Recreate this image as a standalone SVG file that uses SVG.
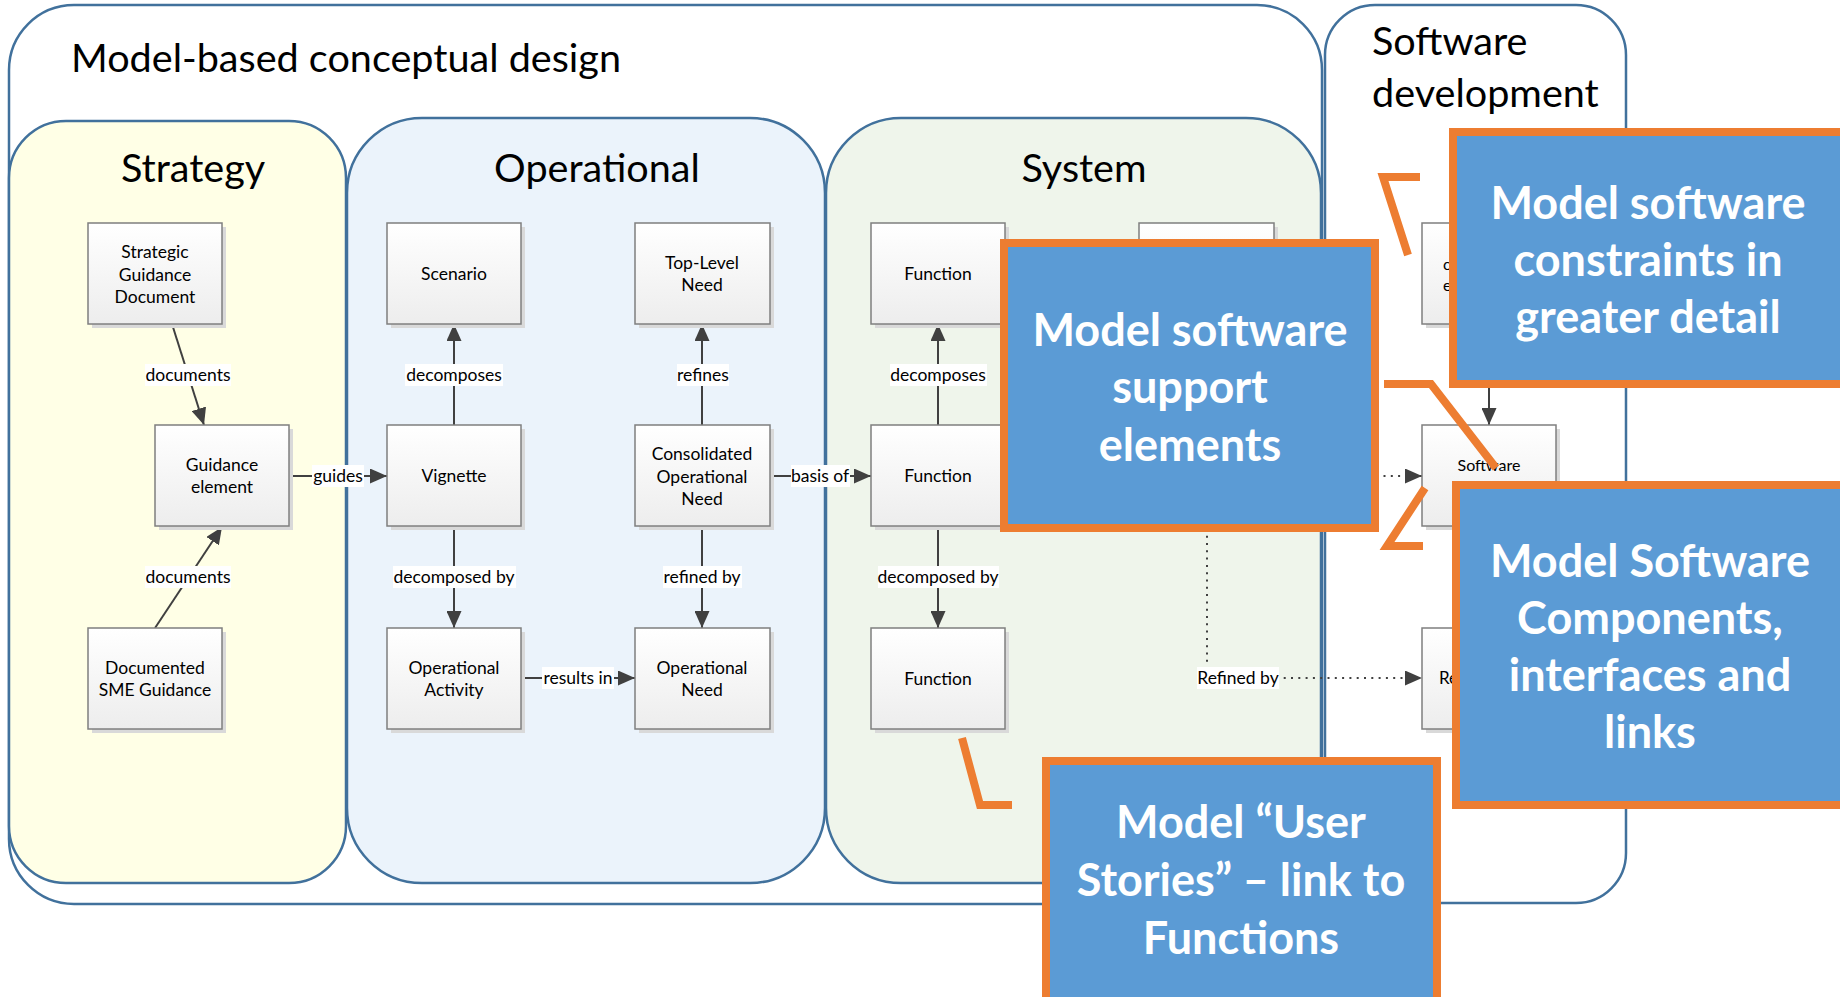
<svg xmlns="http://www.w3.org/2000/svg" width="1840" height="997" viewBox="0 0 1840 997">
<defs>
<linearGradient id="ng" x1="0" y1="0" x2="0" y2="1">
<stop offset="0" stop-color="#FFFFFF"/>
<stop offset="1" stop-color="#EDEDED"/>
</linearGradient>
<marker id="ah" markerWidth="17" markerHeight="15" refX="17" refY="7.5" orient="auto" markerUnits="userSpaceOnUse">
<path d="M0,0 L17,7.5 L0,15 z" fill="#404040"/>
</marker>
<style>
.lane{stroke:#41719C;stroke-width:2.5}
.node{fill:url(#ng);stroke:#7F7F7F;stroke-width:1.5}
.shadow{fill:#D9D9D9}
.nt{font-family:Lato,"Liberation Sans",sans-serif;font-size:17.5px;fill:#000;text-anchor:middle}
.title{font-family:Lato,"Liberation Sans",sans-serif;font-size:39.6px;fill:#000}
.conn{stroke:#404040;stroke-width:2;fill:none}
.dot{stroke:#404040;stroke-width:2;fill:none;stroke-dasharray:2 5.3}
.lblbg{fill:#FFFFFF}
.lbl{font-family:Lato,"Liberation Sans",sans-serif;font-size:17.5px;fill:#000;text-anchor:middle}
.call{fill:#5B9BD5;stroke:#ED7D31;stroke-width:8}
.ct{font-family:Lato,"Liberation Sans",sans-serif;font-weight:bold;font-size:45px;fill:#FFFFFF;text-anchor:middle}
.ptr{stroke:#ED7D31;stroke-width:8;fill:none;stroke-linejoin:miter}
</style>
</defs>
<rect width="1840" height="997" fill="#FFFFFF"/>

<g id="containers">
<rect id="mbcd" class="lane" x="9" y="5" width="1313" height="899" rx="65" ry="65" fill="#FFFFFF"/>
<rect id="swdev" class="lane" x="1325" y="5" width="301" height="898" rx="50" ry="50" fill="#FFFFFF"/>
<rect id="lane-strategy" class="lane" x="9" y="121" width="337" height="762" rx="57" ry="57" fill="#FFFFE6"/>
<rect id="lane-operational" class="lane" x="347" y="118" width="478" height="765" rx="75" ry="75" fill="#EBF3FB"/>
<rect id="lane-system" class="lane" x="826" y="118" width="495" height="765" rx="75" ry="75" fill="#EFF5EB"/>
<text class="title" x="71" y="72">Model-based conceptual design</text>
<text class="title" x="193" y="182" text-anchor="middle">Strategy</text>
<text class="title" x="597" y="182" text-anchor="middle">Operational</text>
<text class="title" x="1084" y="182" text-anchor="middle">System</text>
<text class="title" x="1372" y="55">Software</text>
<text class="title" x="1372" y="107">development</text>
</g>

<g id="connectors">
<line class="conn" x1="172" y1="324" x2="204" y2="425" marker-end="url(#ah)"/>
<line class="conn" x1="155" y1="628" x2="222" y2="527" marker-end="url(#ah)"/>
<line class="conn" x1="290" y1="476" x2="387" y2="476" marker-end="url(#ah)"/>
<line class="conn" x1="454" y1="425" x2="454" y2="324" marker-end="url(#ah)"/>
<line class="conn" x1="454" y1="526" x2="454" y2="628" marker-end="url(#ah)"/>
<line class="conn" x1="521" y1="678" x2="635" y2="678" marker-end="url(#ah)"/>
<line class="conn" x1="702" y1="425" x2="702" y2="324" marker-end="url(#ah)"/>
<line class="conn" x1="702" y1="526" x2="702" y2="628" marker-end="url(#ah)"/>
<line class="conn" x1="770" y1="476" x2="871" y2="476" marker-end="url(#ah)"/>
<line class="conn" x1="938" y1="425" x2="938" y2="324" marker-end="url(#ah)"/>
<line class="conn" x1="938" y1="526" x2="938" y2="628" marker-end="url(#ah)"/>
<line class="conn" x1="1489" y1="324" x2="1489" y2="425" marker-end="url(#ah)"/>
<path class="dot" d="M1207,324 L1207,678 L1422,678" marker-end="url(#ah)"/>
<line class="dot" x1="1274" y1="476" x2="1422" y2="476" marker-end="url(#ah)"/>

<rect class="lblbg" x="145" y="364" width="86" height="22"/>
<text class="lbl" x="188" y="381">documents</text>
<rect class="lblbg" x="145" y="566" width="86" height="22"/>
<text class="lbl" x="188" y="583">documents</text>
<rect class="lblbg" x="312" y="465" width="52" height="22"/>
<text class="lbl" x="338" y="482">guides</text>
<rect class="lblbg" x="405" y="364" width="98" height="22"/>
<text class="lbl" x="454" y="381">decomposes</text>
<rect class="lblbg" x="393" y="566" width="123" height="22"/>
<text class="lbl" x="454" y="583">decomposed by</text>
<rect class="lblbg" x="542" y="667" width="72" height="22"/>
<text class="lbl" x="578" y="684">results in</text>
<rect class="lblbg" x="677" y="364" width="52" height="22"/>
<text class="lbl" x="703" y="381">refines</text>
<rect class="lblbg" x="663" y="566" width="79" height="22"/>
<text class="lbl" x="702" y="583">refined by</text>
<rect class="lblbg" x="791" y="465" width="59" height="22"/>
<text class="lbl" x="820" y="482">basis of</text>
<rect class="lblbg" x="890" y="364" width="97" height="22"/>
<text class="lbl" x="938" y="381">decomposes</text>
<rect class="lblbg" x="878" y="566" width="121" height="22"/>
<text class="lbl" x="938" y="583">decomposed by</text>
<rect class="lblbg" x="1197" y="667" width="82" height="22"/>
<text class="lbl" x="1238" y="684">Refined by</text>
</g>

<g id="n-sgd">
<rect class="shadow" x="92" y="227" width="134" height="101"/>
<rect class="node" x="88" y="223" width="134" height="101"/>
<text class="nt" x="155" y="258">Strategic</text>
<text class="nt" x="155" y="280.5">Guidance</text>
<text class="nt" x="155" y="303">Document</text>
</g>
<g id="n-guidance-element">
<rect class="shadow" x="159" y="429" width="134" height="101"/>
<rect class="node" x="155" y="425" width="134" height="101"/>
<text class="nt" x="222" y="471">Guidance</text>
<text class="nt" x="222" y="493">element</text>
</g>
<g id="n-sme">
<rect class="shadow" x="92" y="632" width="134" height="101"/>
<rect class="node" x="88" y="628" width="134" height="101"/>
<text class="nt" x="155" y="674">Documented</text>
<text class="nt" x="155" y="696">SME Guidance</text>
</g>
<g id="n-scenario">
<rect class="shadow" x="391" y="227" width="134" height="101"/>
<rect class="node" x="387" y="223" width="134" height="101"/>
<text class="nt" x="454" y="280">Scenario</text>
</g>
<g id="n-vignette">
<rect class="shadow" x="391" y="429" width="134" height="101"/>
<rect class="node" x="387" y="425" width="134" height="101"/>
<text class="nt" x="454" y="482">Vignette</text>
</g>
<g id="n-op-activity">
<rect class="shadow" x="391" y="632" width="134" height="101"/>
<rect class="node" x="387" y="628" width="134" height="101"/>
<text class="nt" x="454" y="674">Operational</text>
<text class="nt" x="454" y="696">Activity</text>
</g>
<g id="n-top-level-need">
<rect class="shadow" x="639" y="227" width="135" height="101"/>
<rect class="node" x="635" y="223" width="135" height="101"/>
<text class="nt" x="702" y="269">Top-Level</text>
<text class="nt" x="702" y="291">Need</text>
</g>
<g id="n-consolidated">
<rect class="shadow" x="639" y="429" width="135" height="101"/>
<rect class="node" x="635" y="425" width="135" height="101"/>
<text class="nt" x="702" y="460">Consolidated</text>
<text class="nt" x="702" y="482.5">Operational</text>
<text class="nt" x="702" y="505">Need</text>
</g>
<g id="n-op-need">
<rect class="shadow" x="639" y="632" width="135" height="101"/>
<rect class="node" x="635" y="628" width="135" height="101"/>
<text class="nt" x="702" y="674">Operational</text>
<text class="nt" x="702" y="696">Need</text>
</g>
<g id="n-function-1">
<rect class="shadow" x="875" y="227" width="134" height="101"/>
<rect class="node" x="871" y="223" width="134" height="101"/>
<text class="nt" x="938" y="280">Function</text>
</g>
<g id="n-function-2">
<rect class="shadow" x="875" y="429" width="134" height="101"/>
<rect class="node" x="871" y="425" width="134" height="101"/>
<text class="nt" x="938" y="482">Function</text>
</g>
<g id="n-function-3">
<rect class="shadow" x="875" y="632" width="134" height="101"/>
<rect class="node" x="871" y="628" width="134" height="101"/>
<text class="nt" x="938" y="685">Function</text>
</g>
<g id="n-system-hidden">
<rect class="shadow" x="1143" y="227" width="135" height="101"/>
<rect class="node" x="1139" y="223" width="135" height="101"/>
</g>
<g id="n-sw-constraint">
<rect class="shadow" x="1426" y="227" width="134" height="101"/>
<rect class="node" x="1422" y="223" width="134" height="101"/>
<text class="nt" x="1443" y="270" style="font-size:16px;text-anchor:start">c</text>
<text class="nt" x="1443" y="291" style="font-size:16px;text-anchor:start">e</text>
</g>
<g id="n-software">
<rect class="shadow" x="1426" y="429" width="134" height="101"/>
<rect class="node" x="1422" y="425" width="134" height="101"/>
<text class="nt" x="1489" y="471" style="font-size:16px">Software</text>
</g>
<g id="n-sw-re">
<rect class="shadow" x="1426" y="632" width="134" height="101"/>
<rect class="node" x="1422" y="628" width="134" height="101"/>
<text class="nt" x="1439" y="684" style="font-size:17px;text-anchor:start">Re</text>
</g>

<g id="pointers">
<polyline class="ptr" points="962,738 980,805 1012,805"/>
<polyline class="ptr" points="1420,177 1383,177 1408,255"/>
<polyline class="ptr" points="1384,384 1431,384 1496,468"/>
<polyline class="ptr" points="1425,488 1387,546 1423,546"/>
</g>

<g id="callout-support">
<rect class="call" x="1004" y="243" width="371" height="285"/>
<text class="ct" x="1190" y="346">Model software</text>
<text class="ct" x="1190" y="403">support</text>
<text class="ct" x="1190" y="461">elements</text>
</g>
<g id="callout-constraints">
<rect class="call" x="1453" y="132" width="392" height="252"/>
<text class="ct" x="1648" y="219">Model software</text>
<text class="ct" x="1648" y="276">constraints in</text>
<text class="ct" x="1648" y="333">greater detail</text>
</g>
<g id="callout-components">
<rect class="call" x="1456" y="485" width="389" height="320"/>
<text class="ct" x="1650" y="577">Model Software</text>
<text class="ct" x="1650" y="634">Components,</text>
<text class="ct" x="1650" y="691">interfaces and</text>
<text class="ct" x="1650" y="748">links</text>
</g>
<g id="callout-user-stories">
<rect class="call" x="1046" y="761" width="391" height="245"/>
<text class="ct" x="1241" y="838">Model “User</text>
<text class="ct" x="1241" y="896">Stories” – link to</text>
<text class="ct" x="1241" y="954">Functions</text>
</g>
</svg>
